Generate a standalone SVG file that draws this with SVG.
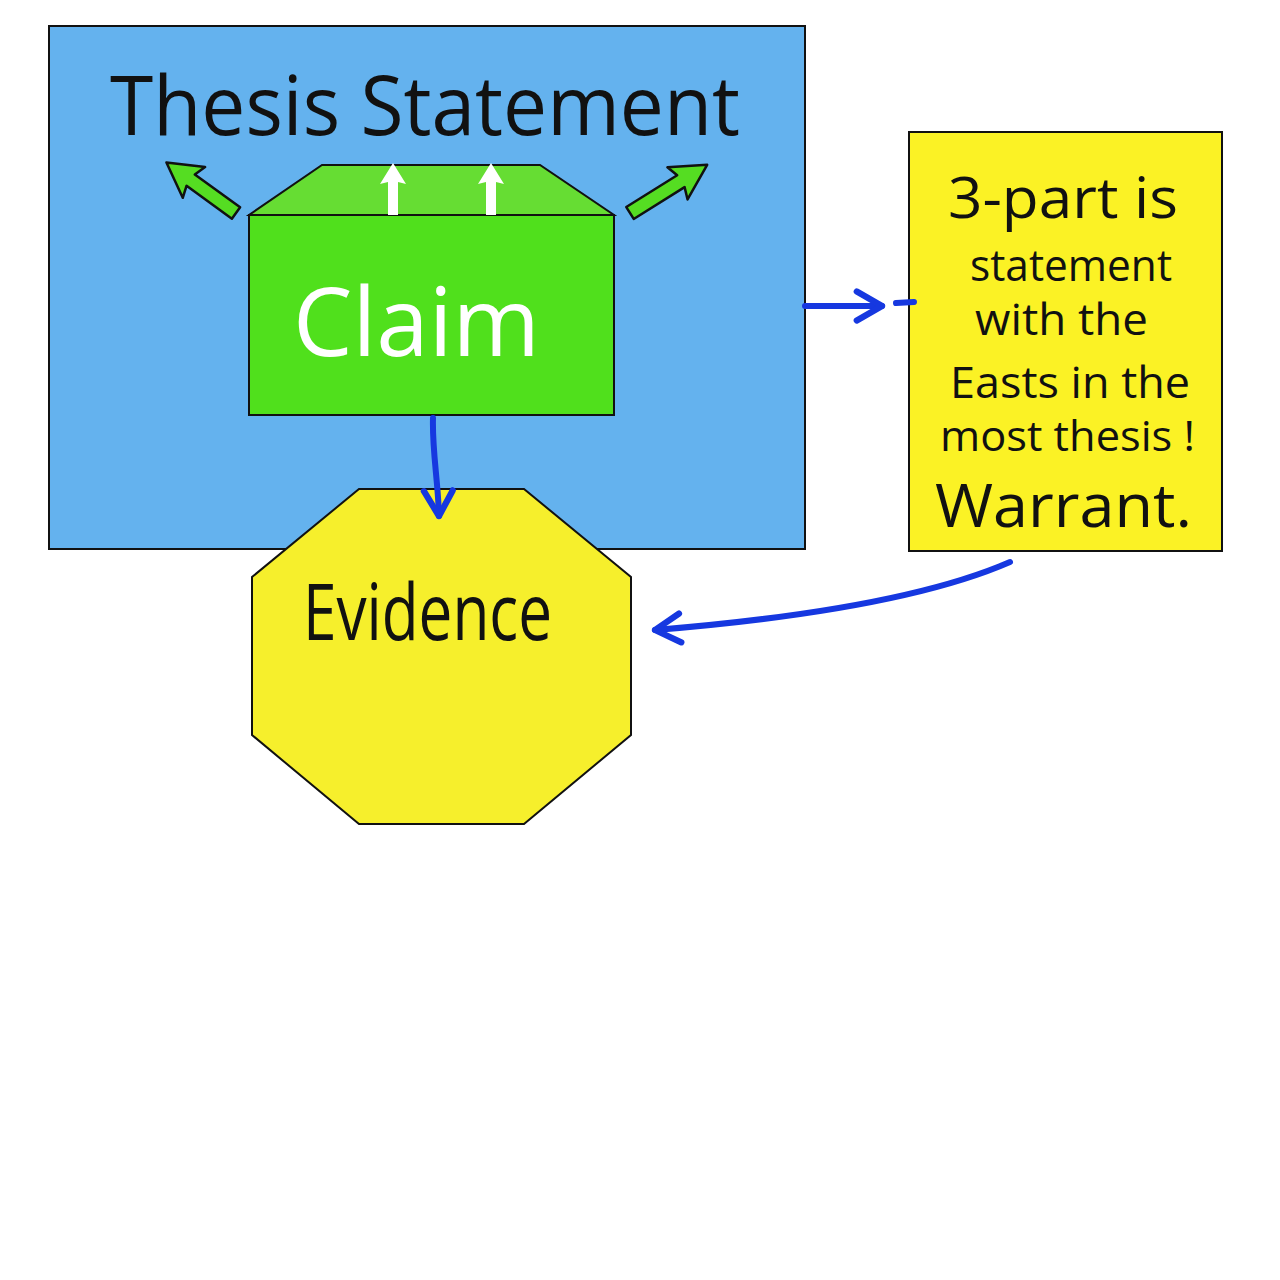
<svg xmlns="http://www.w3.org/2000/svg" width="1280" height="1280" viewBox="0 0 1280 1280">
<defs>
<style>
.outline{stroke:#111;stroke-width:2}
.hand{font-family:"Open Sans","Liberation Sans",sans-serif;fill:#111}
.conn{fill:none;stroke:#1638e0;stroke-width:6;stroke-linecap:round}
.gar{fill:#55dd22;stroke:#111;stroke-width:2.5;stroke-linejoin:round}
</style>
<marker id="ah" viewBox="0 0 20 20" refX="16" refY="10" markerWidth="6" markerHeight="6" markerUnits="strokeWidth" orient="auto">
<path d="M2,2 L16,10 L2,18" fill="none" stroke="#1638e0" stroke-width="3.5" stroke-linecap="round" stroke-linejoin="round"/>
</marker>
</defs>
<rect width="1280" height="1280" fill="#ffffff"/>

<g id="thesis">
<rect x="49" y="26" width="756" height="523" fill="#64b2ee" class="outline"/>
<text class="hand" x="110" y="135" font-size="82" textLength="630" lengthAdjust="spacingAndGlyphs">Thesis Statement</text>
<polygon class="gar" transform="translate(236,213) rotate(216)" points="0,-7 56,-7 52,-19 86,0 52,19 56,7 0,7"/>
<polygon class="gar" transform="translate(630,213) rotate(-32)" points="0,-7 60,-7 56,-19 91,0 56,19 60,7 0,7"/>
</g>

<g id="claim">
<polygon points="322,165 540,165 614,215 249,215" fill="#66dd33" class="outline"/>
<rect x="249" y="215" width="365" height="200" fill="#50e01c" class="outline"/>
<g fill="#ffffff">
<polygon points="388,215 388,182 380,184 393,163 406,184 398,182 398,215"/>
<polygon points="486,215 486,182 478,184 491,163 504,184 496,182 496,215"/>
</g>
<text x="293" y="356" font-family="Open Sans, Liberation Sans, sans-serif" font-size="96" fill="#ffffff" textLength="247" lengthAdjust="spacingAndGlyphs">Claim</text>
</g>

<g id="evidence">
<polygon points="359,489 524,489 631,577 631,735 524,824 359,824 252,735 252,577" fill="#f6ef2c" class="outline"/>
<text class="hand" x="303" y="640" font-size="78" textLength="249" lengthAdjust="spacingAndGlyphs">Evidence</text>
</g>

<g id="warrant">
<rect x="909" y="132" width="313" height="419" fill="#fbf225" class="outline"/>
<text class="hand" x="948" y="218" font-size="56" textLength="230" lengthAdjust="spacingAndGlyphs">3-part is</text>
<text class="hand" x="970" y="281" font-size="44" textLength="202" lengthAdjust="spacingAndGlyphs">statement</text>
<text class="hand" x="975" y="335" font-size="44" textLength="173" lengthAdjust="spacingAndGlyphs">with the</text>
<text class="hand" x="950" y="398" font-size="44" textLength="240" lengthAdjust="spacingAndGlyphs">Easts in the</text>
<text class="hand" x="940" y="451" font-size="42" textLength="255" lengthAdjust="spacingAndGlyphs">most thesis !</text>
<text class="hand" x="935" y="527" font-size="60" textLength="257" lengthAdjust="spacingAndGlyphs">Warrant.</text>
</g>

<g id="connectors">
<path class="conn" d="M433,418 C432,450 438,480 439,516" marker-end="url(#ah)"/>
<path class="conn" d="M805,306 L882,306" marker-end="url(#ah)"/>
<path class="conn" d="M896,303 L914,302"/>
<path class="conn" d="M1010,562 Q900,610 655,630" marker-end="url(#ah)"/>
</g>
</svg>
